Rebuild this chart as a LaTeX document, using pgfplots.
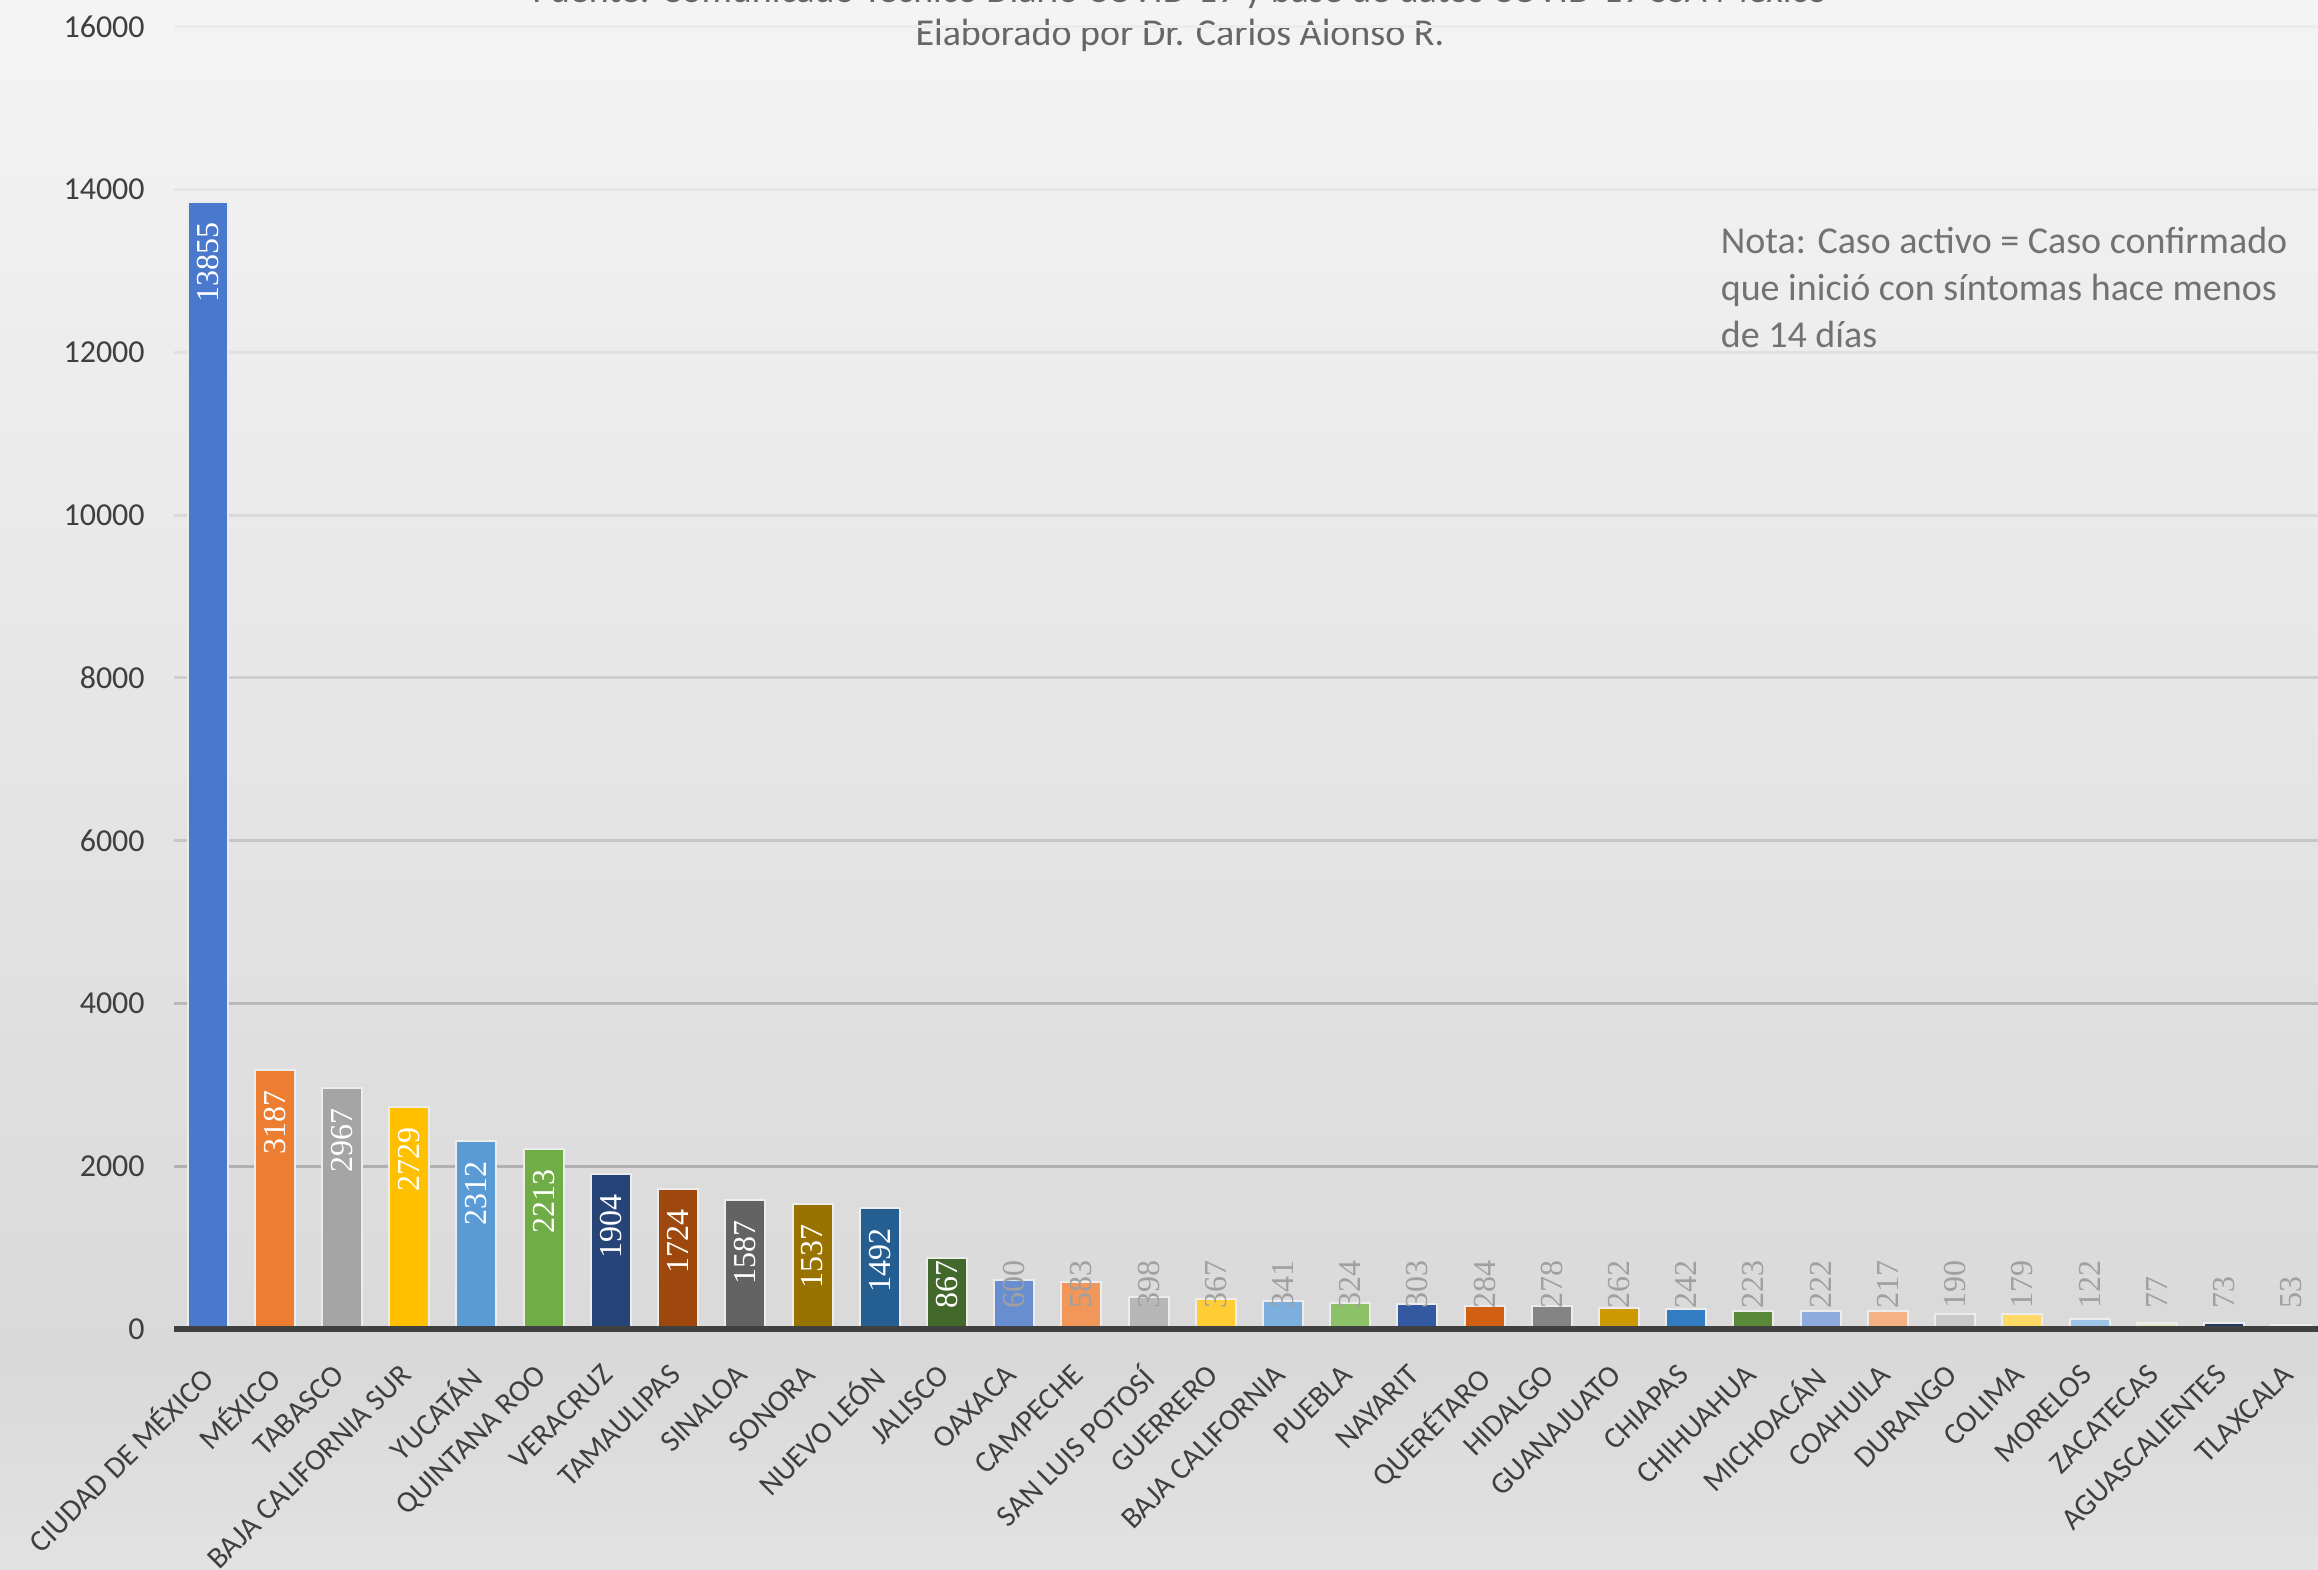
\documentclass[border=0pt]{standalone}
\usepackage{pgfplots}
\pgfplotsset{compat=1.18}
\usepackage{fontspec}
\setmainfont{Carlito}
\newfontfamily\valfont{Liberation Serif}
\definecolor{c1}{HTML}{4A78CC}
\definecolor{c2}{HTML}{ED7D31}
\definecolor{c3}{HTML}{A5A5A5}
\definecolor{c4}{HTML}{FFC000}
\definecolor{c5}{HTML}{5B9BD5}
\definecolor{c6}{HTML}{70AD47}
\definecolor{c7}{HTML}{264478}
\definecolor{c8}{HTML}{9E480E}
\definecolor{c9}{HTML}{636363}
\definecolor{c10}{HTML}{997300}
\definecolor{c11}{HTML}{255E91}
\definecolor{c12}{HTML}{43682B}
\definecolor{c13}{HTML}{698ED0}
\definecolor{c14}{HTML}{F1975A}
\definecolor{c15}{HTML}{B7B7B7}
\definecolor{c16}{HTML}{FFCD33}
\definecolor{c17}{HTML}{7CAFDD}
\definecolor{c18}{HTML}{8CC168}
\definecolor{c19}{HTML}{335AA1}
\definecolor{c20}{HTML}{D26012}
\definecolor{c21}{HTML}{848484}
\definecolor{c22}{HTML}{CC9A00}
\definecolor{c23}{HTML}{327DC2}
\definecolor{c24}{HTML}{5A8A39}
\definecolor{c25}{HTML}{8FAADC}
\definecolor{c26}{HTML}{F4B183}
\definecolor{c27}{HTML}{C9C9C9}
\definecolor{c28}{HTML}{FFD966}
\definecolor{c29}{HTML}{9DC3E6}
\definecolor{c30}{HTML}{E4E8CC}
\definecolor{c31}{HTML}{203864}
\definecolor{c32}{HTML}{5A5A5A}
\definecolor{tickgray}{HTML}{3F3F3F}
\definecolor{titlegray}{HTML}{666666}
\definecolor{notagray}{HTML}{727272}
\definecolor{valgray}{HTML}{A0A0A0}
\definecolor{axisdark}{HTML}{404040}
\newcommand\onebar[3]{\addplot[ybar, bar width=10pt, bar shift=0pt, fill=#3, draw=white!85!gray, line width=0.5pt] coordinates {(#1,#2)};}
\newcommand\gline[2]{\draw[line width=0.75pt, color=#2] (axis cs:-0.5,#1) -- (axis cs:31.4,#1);}
\begin{document}
\begin{tikzpicture}
\shade[top color={rgb,255:red,244;green,244;blue,244}, bottom color={rgb,255:red,217;green,217;blue,217}] (0pt,52.5pt) rectangle (579.5pt,392.5pt);
\shade[top color={rgb,255:red,217;green,217;blue,217}, bottom color={rgb,255:red,226;green,226;blue,226}] (0pt,0pt) rectangle (579.5pt,52.5pt);
\node[font=\fontsize{9.5}{11}\selectfont, text=titlegray] at (295pt,394.5pt) {Fuente: Comunicado Técnico Diario COVID-19 y base de datos COVID-19 SSA México};
\node[font=\fontsize{9.5}{11}\selectfont, text=titlegray] at (295pt,383.75pt) {Elaborado por Dr. Carlos Alonso R.};
\node[anchor=north west, inner sep=0pt, align=left, font=\fontsize{9.5}{11.8}\selectfont, text=notagray] at (430pt,336pt) {Nota: Caso activo = Caso confirmado\\que inició con síntomas hace menos\\de 14 días};
\begin{axis}[
  at={(43.5pt,60.25pt)}, anchor=south west,
  scale only axis, width=536pt, height=325.5pt,
  xmin=-0.5, xmax=31.4, ymin=0, ymax=16000,
  axis line style={draw=none},
  major tick length=0pt,
  clip=false,
  xtick={0,...,31},
  xticklabels={{CIUDAD DE MÉXICO},{MÉXICO},{TABASCO},{BAJA CALIFORNIA SUR},{YUCATÁN},{QUINTANA ROO},{VERACRUZ},{TAMAULIPAS},{SINALOA},{SONORA},{NUEVO LEÓN},{JALISCO},{OAXACA},{CAMPECHE},{SAN LUIS POTOSÍ},{GUERRERO},{BAJA CALIFORNIA},{PUEBLA},{NAYARIT},{QUERÉTARO},{HIDALGO},{GUANAJUATO},{CHIAPAS},{CHIHUAHUA},{MICHOACÁN},{COAHUILA},{DURANGO},{COLIMA},{MORELOS},{ZACATECAS},{AGUASCALIENTES},{TLAXCALA}},
  xticklabel style={xshift=-2.5pt, yshift=-6.8pt, rotate=45, anchor=north east, inner sep=1pt, font=\fontsize{7.6}{9}\selectfont, text=tickgray},
  ytick={0,2000,...,16000},
  scaled y ticks=false,
  /pgf/number format/assume math mode=true,
  yticklabel style={/pgf/number format/1000 sep={}, xshift=-3.8pt, font=\fontsize{8}{9}\selectfont, text=tickgray},
]
\gline{16000}{white!85!gray}
\gline{14000}{white!80!gray}
\gline{12000}{white!76!gray}
\gline{10000}{white!70!gray}
\gline{8000}{white!62!gray}
\gline{6000}{white!55!gray}
\gline{4000}{white!45!gray}
\gline{2000}{white!38!gray}
\onebar{0}{13855}{c1}
\onebar{1}{3187}{c2}
\onebar{2}{2967}{c3}
\onebar{3}{2729}{c4}
\onebar{4}{2312}{c5}
\onebar{5}{2213}{c6}
\onebar{6}{1904}{c7}
\onebar{7}{1724}{c8}
\onebar{8}{1587}{c9}
\onebar{9}{1537}{c10}
\onebar{10}{1492}{c11}
\onebar{11}{867}{c12}
\onebar{12}{600}{c13}
\onebar{13}{583}{c14}
\onebar{14}{398}{c15}
\onebar{15}{367}{c16}
\onebar{16}{341}{c17}
\onebar{17}{324}{c18}
\onebar{18}{303}{c19}
\onebar{19}{284}{c20}
\onebar{20}{278}{c21}
\onebar{21}{262}{c22}
\onebar{22}{242}{c23}
\onebar{23}{223}{c24}
\onebar{24}{222}{c25}
\onebar{25}{217}{c26}
\onebar{26}{190}{c27}
\onebar{27}{179}{c28}
\onebar{28}{122}{c29}
\onebar{29}{77}{c30}
\onebar{30}{73}{c31}
\onebar{31}{53}{c32}
\addplot[draw=none, mark=none, nodes near coords, point meta=explicit symbolic,
  nodes near coords style={font=\valfont\fontsize{8}{9}\selectfont, text=white, rotate=90, anchor=east, inner xsep=5pt, inner ysep=0pt}]
  coordinates {(0,13855)[13855] (1,3187)[3187] (2,2967)[2967] (3,2729)[2729] (4,2312)[2312] (5,2213)[2213] (6,1904)[1904] (7,1724)[1724] (8,1587)[1587] (9,1537)[1537] (10,1492)[1492]};
\addplot[draw=none, mark=none, nodes near coords, point meta=explicit symbolic,
  nodes near coords style={font=\valfont\fontsize{8}{9}\selectfont, text=white, rotate=90, anchor=west, inner xsep=5pt, inner ysep=0pt}]
  coordinates {(11,0)[867]};
\addplot[draw=none, mark=none, nodes near coords, point meta=explicit symbolic,
  nodes near coords style={font=\valfont\fontsize{8}{9}\selectfont, text=valgray, rotate=90, anchor=west, inner xsep=5pt, inner ysep=0pt}]
  coordinates {(12,0)[600] (13,0)[583] (14,0)[398] (15,0)[367] (16,0)[341] (17,0)[324] (18,0)[303] (19,0)[284] (20,0)[278] (21,0)[262] (22,0)[242] (23,0)[223] (24,0)[222] (25,0)[217] (26,0)[190] (27,0)[179] (28,0)[122] (29,0)[77] (30,0)[73] (31,0)[53]};
\draw[line width=1.6pt, color=axisdark] (axis cs:-0.5,0) -- (axis cs:31.4,0);
\end{axis}
\pgfresetboundingbox
\useasboundingbox (0pt,0pt) rectangle (579.5pt,392.5pt);
\end{tikzpicture}
\end{document}
